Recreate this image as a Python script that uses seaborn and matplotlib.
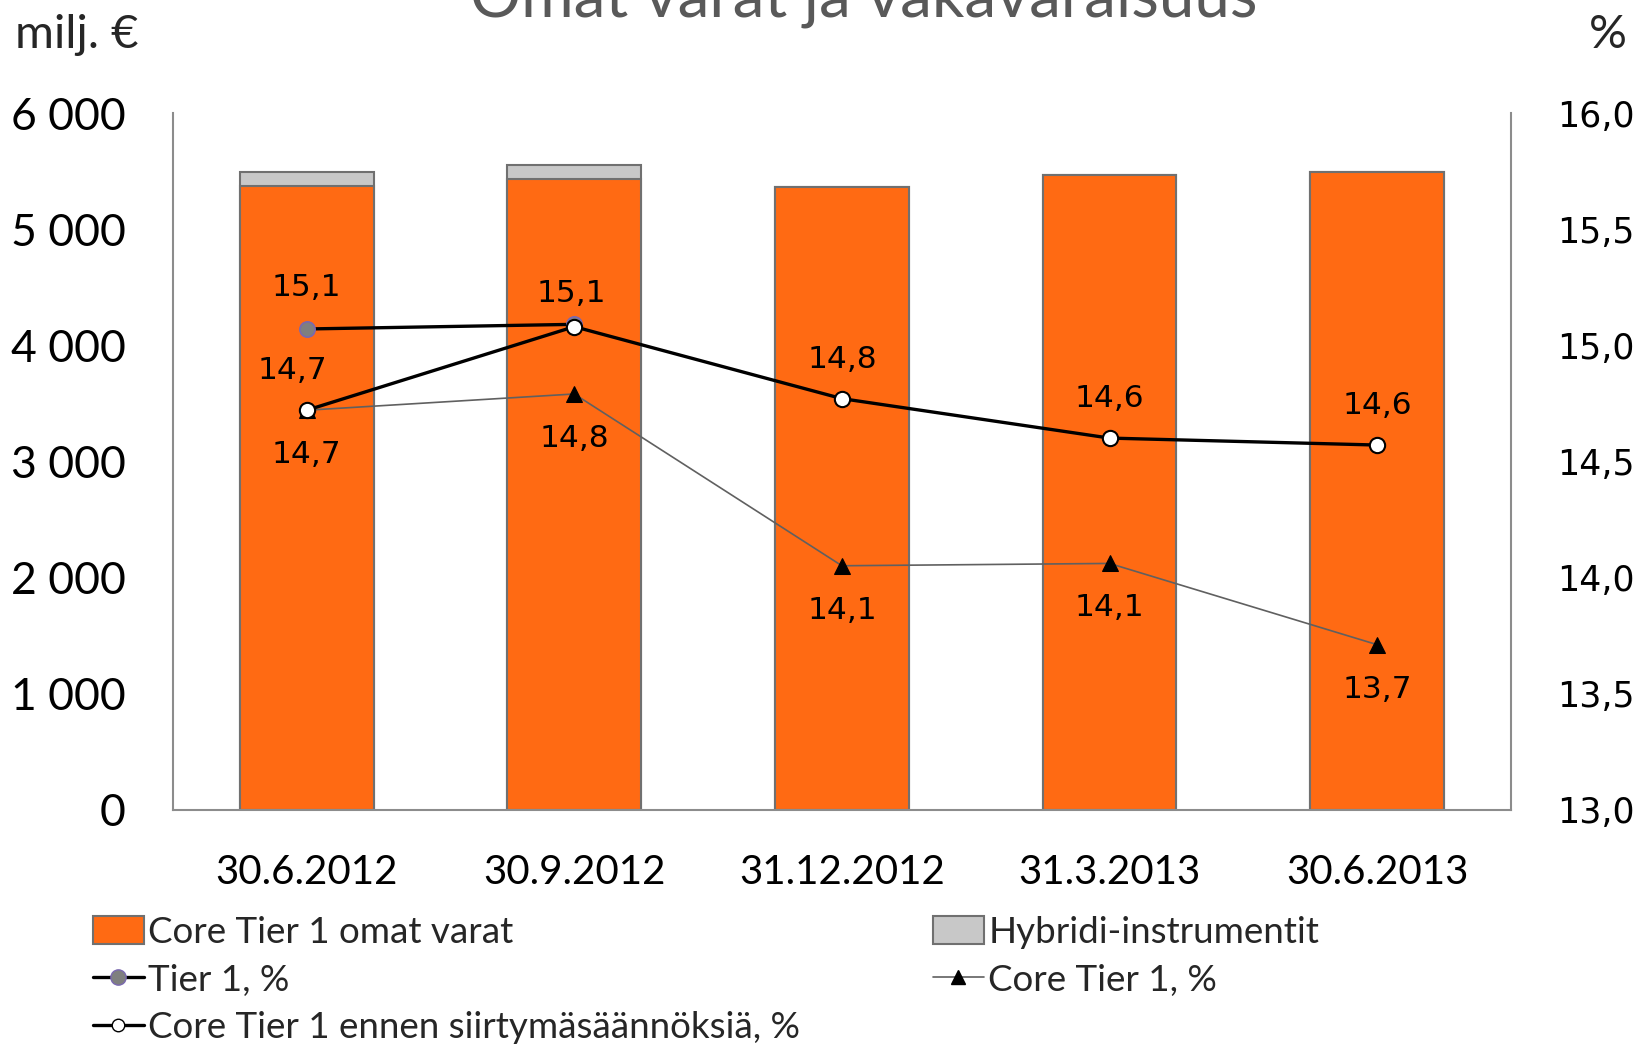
import numpy as np
import pandas as pd
import matplotlib
matplotlib.use("Agg")
import matplotlib.pyplot as plt
import seaborn as sns
from matplotlib.patches import Patch
from matplotlib.lines import Line2D

# ---- data ----
dates = ["30.6.2012", "30.9.2012", "31.12.2012", "31.3.2013", "30.6.2013"]
core_own_funds = [5370, 5430, 5360, 5470, 5490]
hybrid = [120, 125, 0, 0, 0]
tier1_pct = [15.07, 15.09, np.nan, np.nan, np.nan]
core_tier1_pct = [14.72, 14.79, 14.05, 14.06, 13.71]
core_tier1_before_pct = [14.72, 15.08, 14.77, 14.60, 14.57]

sns.set_theme(style="white")
plt.rcParams['font.family'] = ['Lato', 'DejaVu Sans']

W, H = 1642, 1051
fig = plt.figure(figsize=(W / 100, H / 100), dpi=100)
ax = fig.add_axes([172.8 / W, 1 - 809.5 / H, (1511 - 172.8) / W, (809.5 - 113.1) / H])

df = pd.DataFrame({"date": dates, "core": core_own_funds,
                   "total": np.array(core_own_funds) + np.array(hybrid)})

orange = "#FF6A13"
grey_fill = "#C8C8C8"
edge = "#707070"
sns.barplot(data=df, x="date", y="total", color=grey_fill, width=0.5,
            edgecolor=edge, linewidth=1.5, saturation=1, ax=ax)
sns.barplot(data=df, x="date", y="core", color=orange, width=0.5,
            edgecolor=edge, linewidth=1.5, saturation=1, ax=ax)

ax.set_xlim(-0.5, 4.5)
ax.set_ylim(0, 6000)
ax.set_yticks(np.arange(0, 6001, 1000))
ax.set_yticklabels([f"{v:,}".replace(",", " ") for v in range(0, 6001, 1000)])
ax.set_xlabel("")
ax.set_ylabel("")
ax.tick_params(axis="y", labelsize=32, pad=34, length=0, colors="black")
ax.tick_params(axis="x", labelsize=29, pad=32, length=0, colors="black")
for s in ["left", "bottom", "right"]:
    ax.spines[s].set_color("#8C8C8C")
    ax.spines[s].set_linewidth(1.5)
ax.spines["top"].set_visible(False)

ax2 = ax.twinx()
xpos = np.arange(len(dates))
lines = pd.DataFrame({"x": xpos, "tier1": tier1_pct, "ct1": core_tier1_pct,
                      "ct1b": core_tier1_before_pct})

sns.lineplot(data=lines, x="x", y="ct1", ax=ax2, color="#606060", linewidth=1.2,
             marker="^", markersize=11, markerfacecolor="black",
             markeredgecolor="black", zorder=3)
sns.lineplot(data=lines.dropna(), x="x", y="tier1", ax=ax2, color="black", linewidth=2.4,
             marker="o", markersize=11, markerfacecolor="#7F7F7F",
             markeredgecolor="#7A68B0", markeredgewidth=1.2, zorder=4)
sns.lineplot(data=lines, x="x", y="ct1b", ax=ax2, color="black", linewidth=2.4,
             marker="o", markersize=11, markerfacecolor="white",
             markeredgecolor="black", markeredgewidth=1.5, zorder=5)

ax2.set_ylim(13.0, 16.0)
ax2.set_yticks(np.arange(13.0, 16.01, 0.5))
ax2.set_yticklabels([f"{v:.1f}".replace(".", ",") for v in np.arange(13.0, 16.01, 0.5)],
                    family="DejaVu Sans")
ax2.tick_params(axis="y", labelsize=25, pad=33, length=0, colors="black")
ax2.set_ylabel("")
ax2.set_xlabel("")
for s in ["left", "bottom", "right", "top"]:
    ax2.spines[s].set_visible(False)
ax2.set_xlim(-0.5, 4.5)

def fmt(v):
    return f"{v:.1f}".replace(".", ",")

lab_kw = dict(textcoords="offset points", ha="center", va="center",
              fontsize=22.5, family="DejaVu Sans", color="black", zorder=10)
# Tier 1 labels (above)
ax2.annotate(fmt(tier1_pct[0]), (0, tier1_pct[0]), xytext=(0, 30), **lab_kw)
ax2.annotate(fmt(tier1_pct[1]), (1, tier1_pct[1]), xytext=(-2, 22), **lab_kw)
# Core Tier 1 before transitional rules (above)
for i, v in enumerate(core_tier1_before_pct):
    if i == 1:
        continue
    dx = -10.5 if i == 0 else 0
    ax2.annotate(fmt(v), (i, v), xytext=(dx, 28.5), **lab_kw)
# Core Tier 1 (below)
for i, v in enumerate(core_tier1_pct):
    ax2.annotate(fmt(v), (i, v), xytext=(0, -32), **lab_kw)

# axis unit labels and title
fig.text(15 / W, 1 - 48 / H, "milj. €", fontsize=34, ha="left", va="baseline")
fig.text(1627 / W, 1 - 48 / H, "%", fontsize=34, ha="right", va="baseline")
fig.text(864 / W, 1 - 17 / H, "Omat varat ja vakavaraisuus", fontsize=46,
         ha="center", va="baseline", color="#595959")

# legends
h_core = Patch(facecolor=orange, edgecolor=edge, linewidth=1.5)
h_hyb = Patch(facecolor=grey_fill, edgecolor=edge, linewidth=1.5)
h_t1 = Line2D([], [], color="black", linewidth=2.4, marker="o", markersize=11,
              markerfacecolor="#7F7F7F", markeredgecolor="#7A68B0")
h_ct1 = Line2D([], [], color="#606060", linewidth=1.2, marker="^", markersize=10,
               markerfacecolor="black", markeredgecolor="black")
h_ct1b = Line2D([], [], color="black", linewidth=2.4, marker="o", markersize=9,
                markerfacecolor="white", markeredgecolor="black")

leg_kw = dict(frameon=False, fontsize=26.5, handlelength=1.38, handleheight=0.8,
              handletextpad=0.12, labelspacing=0.4, borderpad=0, borderaxespad=0,
              loc="upper left")
leg1 = fig.legend([h_core, h_t1, h_ct1b],
                  ["Core Tier 1 omat varat", "Tier 1, %",
                   "Core Tier 1 ennen siirtymäsäännöksiä, %"],
                  bbox_to_anchor=(93 / W, 1 - 916 / H), **leg_kw)
leg2 = fig.legend([h_hyb, h_ct1],
                  ["Hybridi-instrumentit", "Core Tier 1, %"],
                  bbox_to_anchor=(933 / W, 1 - 916 / H), **leg_kw)

fig.savefig("out.png", dpi=100)
